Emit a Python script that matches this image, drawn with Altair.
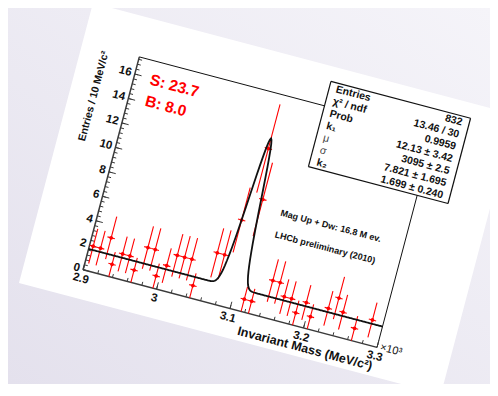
import math
import numpy as np
import pandas as pd
import altair as alt

# ---------------- data ----------------
bin_centers = [2.905, 2.915, 2.925, 2.935, 2.945, 2.955, 2.965, 2.975, 2.985, 2.995,
               3.005, 3.015, 3.025, 3.035, 3.045, 3.055, 3.065, 3.075, 3.085, 3.095,
               3.105, 3.115, 3.125, 3.135, 3.145, 3.155, 3.165, 3.175, 3.185, 3.195,
               3.205, 3.215, 3.225, 3.235, 3.245, 3.255, 3.265, 3.275, 3.285, 3.295]
counts = [2, 2, 3, 1, 2, 2, 1, 3, 3, 1,
          2, 3, 3, 3, 1, 0, 4, 4, 7, 13,
          9, 1, 1, 0, 3, 3, 2, 2, 1, 2,
          1, 0, 2, 3, 2, 0, 1, 0, 2, 0]
bin_width = 0.01
fit_k1, fit_mu, fit_sigma, fit_k2 = 12.13, 3.095, 0.007821, 1.699
x_tick_values = [2.9, 3.0, 3.1, 3.2, 3.3]
x_tick_labels = ["2.9", "3", "3.1", "3.2", "3.3"]
y_tick_values = [0, 2, 4, 6, 8, 10, 12, 14, 16]
stats_labels = ["Entries", "χ² / ndf", "Prob", "k₁", "μ", "σ", "k₂"]
stats_values = ["832", "13.46 / 30", "0.9959", "12.13 ± 3.42", "3095 ± 2.5",
                "7.821 ± 1.695", "1.699 ± 0.240"]
sb_texts = ["S: 23.7", "B: 8.0"]
info_texts = ["Mag Up + Dw: 16.8 M ev.", "LHCb preliminary (2010)"]
x_title = "Invariant Mass (MeV/c²)"
y_title = "Entries / 10 MeV/c²"
x_exponent = "×10³"

# ---------------- layout (rotated page) ----------------
W, H = 482, 376
ANG = 14.8
C = math.cos(math.radians(ANG))
S = math.sin(math.radians(ANG))
T = S / C
SX = 760.0     # px per x unit
SY = 12.65     # px per entry
OX, OY = 75.1, 261.7
XMIN, XMAX, YMAX = 2.9, 3.3, 17.4
FONT = "Liberation Sans, Arial, DejaVu Sans"


def px_expr(m, n):
    return f"{OX} + ({m} - {XMIN})*{SX*C} + ({n})*{SY*S}"


def py_expr(m, n):
    return f"{OY} + ({m} - {XMIN})*{SX*S} - ({n})*{SY*C}"


def to_px(m, n):
    return (OX + (m - XMIN) * SX * C + n * SY * S, OY + (m - XMIN) * SX * S - n * SY * C)


XS = alt.Scale(domain=[0, W], nice=False, zero=False)
YS = alt.Scale(domain=[0, H], nice=False, zero=False, reverse=True)


def xy():
    return dict(x=alt.X("px:Q", scale=XS, axis=None), y=alt.Y("py:Q", scale=YS, axis=None))


def seg_chart(df, **kw):
    return (alt.Chart(df)
            .transform_calculate(px=px_expr("datum.m1", "datum.n1"), py=py_expr("datum.m1", "datum.n1"),
                                 px2=px_expr("datum.m2", "datum.n2"), py2=py_expr("datum.m2", "datum.n2"))
            .mark_rule(**kw)
            .encode(**xy(), x2="px2:Q", y2="py2:Q"))


def text_chart(df, field, angle, align, size, weight, color, m="m", n="n"):
    return (alt.Chart(df)
            .transform_calculate(px=px_expr(f"datum.{m}", f"datum.{n}"), py=py_expr(f"datum.{m}", f"datum.{n}"))
            .mark_text(angle=angle, align=align, baseline="middle", font=FONT, fontSize=size,
                       fontWeight=weight, color=color)
            .encode(**xy(), text=f"{field}:N"))


def rotated_rect(m0, m1, n0, n1, **kw):
    """Filled rotated rectangle drawn as a vertical area (x sorted)."""
    BL, BR, TR, TL = to_px(m0, n0), to_px(m1, n0), to_px(m1, n1), to_px(m0, n1)
    rows = [
        (BL[0], BL[1], BL[1]),
        (TL[0], TL[1], BL[1] + (TL[0] - BL[0]) * T),
        (BR[0], TL[1] + (BR[0] - TL[0]) * T, BR[1]),
        (TR[0], TR[1], TR[1]),
    ]
    df = pd.DataFrame(rows, columns=["px", "py", "py2"])
    return alt.Chart(df).mark_area(**kw).encode(
        x=alt.X("px:Q", scale=XS, axis=None), y=alt.Y("py:Q", scale=YS, axis=None), y2="py2:Q")


def outline(m0, m1, n0, n1, **kw):
    df = pd.DataFrame({"m1": [m0, m1, m1, m0], "n1": [n0, n0, n1, n1],
                       "m2": [m1, m1, m0, m0], "n2": [n0, n1, n1, n0]})
    return seg_chart(df, **kw)


# background gradient
bg = alt.Chart(pd.DataFrame({"a": [0]})).mark_rect(
    fill=alt.LinearGradient(gradient="linear",
                            stops=[alt.GradientStop(color="#e4e1ed", offset=0),
                                   alt.GradientStop(color="#f5f4f9", offset=1)],
                            x1=0, x2=1, y1=1, y2=0)
).encode(x=alt.value(0), x2=alt.value(W), y=alt.value(0), y2=alt.value(H))

paper = rotated_rect(2.8229, 3.397, -2.31, 20.58, color="white", opacity=1)

# frame and axes
frame_df = pd.DataFrame({"m1": [XMIN, XMAX], "n1": [YMAX, 0], "m2": [XMAX, XMAX], "n2": [YMAX, YMAX]})
axes_df = pd.DataFrame({"m1": [XMIN, XMIN], "n1": [0, 0], "m2": [XMAX, XMIN], "n2": [0, YMAX]})
frame = seg_chart(frame_df, color="#111111", strokeWidth=1)
axes = seg_chart(axes_df, color="#3a3a3a", strokeWidth=1.5)

MAJ, MIN = 7.0, 3.5
x_minor = np.round(np.arange(2.9, 3.3001, 0.02), 3)
y_minor = np.round(np.arange(0, 17.2001, 0.4), 2)
tick_rows = []
for v in x_minor:
    tick_rows.append((v, 0, v, MIN / SY))
for v in x_tick_values:
    tick_rows.append((v, 0, v, MAJ / SY))
for v in y_minor:
    tick_rows.append((XMIN, v, XMIN + MIN / SX, v))
for v in y_tick_values:
    tick_rows.append((XMIN, v, XMIN + MAJ / SX, v))
ticks = seg_chart(pd.DataFrame(tick_rows, columns=["m1", "n1", "m2", "n2"]), color="#3a3a3a", strokeWidth=1)

# histogram points with errors
h = pd.DataFrame({"m": bin_centers, "n": counts})
h = h[h["n"] > 0].reset_index(drop=True)
err = np.sqrt(h["n"])
verr = pd.DataFrame({"m1": h["m"], "m2": h["m"], "n1": h["n"] - err, "n2": h["n"] + err})
herr = pd.DataFrame({"m1": h["m"] - bin_width / 2, "m2": h["m"] + bin_width / 2, "n1": h["n"], "n2": h["n"]})
ebars = seg_chart(pd.concat([verr, herr]), color="#ff0000", strokeWidth=1.1)
markers = (alt.Chart(h)
           .transform_calculate(px=px_expr("datum.m", "datum.n"), py=py_expr("datum.m", "datum.n"))
           .mark_circle(size=14, color="#ff0000", opacity=1)
           .encode(**xy()))

# fit curve (parameters shown in the stats box)
fit = (alt.Chart(alt.sequence(start=2.9, stop=3.3005, step=0.001, as_="m"))
       .transform_calculate(n=f"{fit_k1}*exp(-0.5*pow((datum.m-{fit_mu})/{fit_sigma},2)) + {fit_k2}")
       .transform_calculate(px=px_expr("datum.m", "datum.n"), py=py_expr("datum.m", "datum.n"))
       .mark_line(color="#111111", strokeWidth=1.8)
       .encode(**xy(), order=alt.Order("m:Q")))

# stats box
BM0, BM1, BN0, BN1 = 3.152, 3.342, 12.43, 19.40
box_fill = rotated_rect(BM0, BM1, BN0, BN1, color="white", opacity=1)
box_line = outline(BM0, BM1, BN0, BN1, color="#111111", strokeWidth=1.2)
row_h = (BN1 - BN0) / 7
st = pd.DataFrame({"label": stats_labels, "value": stats_values})
st["n"] = [BN1 - (i + 0.5) * row_h for i in range(7)]
st["ml"] = BM0 + 7 / SX
st["mr"] = BM1 - 7 / SX
st_bold = st[~st["label"].isin(["μ", "σ"])]
st_greek = st[st["label"].isin(["μ", "σ"])]
stats_l = text_chart(st_bold, "label", ANG, "left", 10.5, "bold", "#111111", m="ml")
stats_g = text_chart(st_greek, "label", ANG, "left", 10.5, "normal", "#444444", m="ml")
stats_v = text_chart(st, "value", ANG, "right", 10.5, "bold", "#111111", m="mr")

# tick labels and titles
xl = pd.DataFrame({"m": x_tick_values, "n": -9.5 / SY, "t": x_tick_labels})
yl = pd.DataFrame({"m": XMIN - 3.5 / SX, "n": y_tick_values, "t": [str(v) for v in y_tick_values]})
xlab = text_chart(xl, "t", ANG, "center", 11.5, "bold", "#111111")
ylab = text_chart(yl, "t", ANG, "right", 11.5, "bold", "#111111")
xt = text_chart(pd.DataFrame({"m": [XMAX], "n": [-19.5 / SY], "t": [x_title]}), "t", ANG, "right", 12.5, "bold", "#111111")
yt = text_chart(pd.DataFrame({"m": [XMIN - 34 / SX], "n": [17.15], "t": [y_title]}), "t", 270 + ANG, "right", 10.5, "bold", "#111111")
xe = text_chart(pd.DataFrame({"m": [XMAX + 3 / SX], "n": [1 / SY], "t": [x_exponent]}), "t", ANG, "left", 11, "normal", "#111111")

sb = text_chart(pd.DataFrame({"m": [2.9215, 2.9225], "n": [15.89, 14.17], "t": sb_texts}), "t", ANG, "left", 15.5, "bold", "#ff0000")
info = text_chart(pd.DataFrame({"m": [3.1322, 3.1322], "n": [8.35, 6.58], "t": info_texts}), "t", ANG, "left", 9, "bold", "#111111")

chart = alt.layer(bg, paper, frame, ticks, axes, ebars, markers, fit, box_fill, box_line,
                  stats_l, stats_g, stats_v, xlab, ylab, xt, yt, xe, sb, info).properties(
    width=W, height=H, padding=0, background="#eceaf2",
    autosize=alt.AutoSizeParams(type="none")
).configure_view(strokeWidth=0)

chart.save("out.html", embed_options={"renderer": "svg", "actions": False})
